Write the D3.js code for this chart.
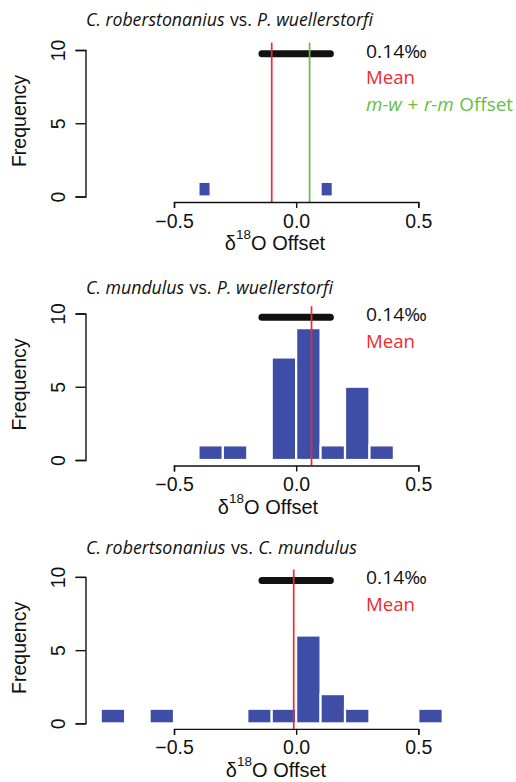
<!DOCTYPE html>
<html>
<head>
<meta charset="utf-8">
<script src="https://cdn.jsdelivr.net/npm/d3@7"></script>
<style>
  body { margin: 0; background: #fff; }
  svg { display: block; }
</style>
</head>
<body>
<script>
// Panel titles: [text, italic] segments
const titleParts = [
  [["C. roberstonanius", true], ["vs.", false], ["P. wuellerstorfi", true]],
  [["C. mundulus", true], ["vs.", false], ["P. wuellerstorfi", true]],
  [["C. robertsonanius", true], ["vs.", false], ["C. mundulus", true]]
];
const offsetLegendParts = [["m-w", true], ["+", false], ["r-m", true], ["Offset", false]];

// Histogram bins (left edges), bin widths and counts per panel
const binWidths = [0.05, 0.1, 0.1];
const binStarts = [
  [-0.4, 0.1],
  [-0.4, -0.3, -0.1, 0.0, 0.1, 0.2, 0.3],
  [-0.8, -0.6, -0.2, -0.1, 0.0, 0.1, 0.2, 0.5]
];
const counts = [
  [1, 1],
  [1, 1, 7, 9, 1, 5, 1],
  [1, 1, 1, 1, 6, 2, 1, 1]
];

// Mean offset per panel and the combined m-w + r-m offset (first panel)
const means = [-0.10, 0.063, -0.01];
const combinedOffset = 0.055;

// Reproducibility band: ±0.14‰ around zero, drawn near the top of each panel
const bandHalfWidth = 0.14;
const bandLevel = 9.75;
const bandLabel = "0.14‰";

const xTicks = [-0.5, 0.0, 0.5];
const yTicks = [0, 5, 10];

// Layout
const W = 516, H = 782;
const panelBase = [196.5, 460, 723.4];    // pixel y of frequency 0
const titleBaseline = [26, 294, 554];
const titleWidths = [287, 247, 271];
const xLabelCenter = [275, 268, 276];
const unitPx = 14.65;                       // pixels per count

const blue = "#3e4ea6", red = "#ee2a2f", green = "#62bf45";
const tickFont = "'Liberation Sans', Arial, Helvetica, sans-serif";
const noteFont = "'Open Sans', 'Noto Sans', sans-serif";
const noteSize = 19;

const svg = d3.select("body").append("svg")
  .attr("width", W).attr("height", H);

const x = d3.scaleLinear().domain([-0.5, 0.5]).range([174, 418.3]);

const fmtX = d => d === 0 ? "0.0" : d3.format(".1f")(d);

// Lays out a run of words (some italic) as separate text pieces,
// squeezed horizontally so the whole run spans the given width
function fittedRun(g, parts, x0, yBase, totalWidth, fill) {
  const pieces = parts.map(([s, it]) => g.append("text")
    .attr("font-family", noteFont).attr("font-size", noteSize)
    .attr("font-style", it ? "italic" : "normal")
    .attr("fill", fill)
    .text(s));
  const widths = pieces.map(p => p.node().getComputedTextLength());
  const gap = noteSize * 0.3;
  const natural = d3.sum(widths) + gap * (parts.length - 1);
  const k = totalWidth / natural;
  let cx = x0;
  pieces.forEach((p, j) => {
    p.attr("transform", `translate(${cx},${yBase}) scale(${k},1)`);
    cx += (widths[j] + gap) * k;
  });
}

titleParts.forEach((parts, i) => {
  const y0 = panelBase[i];
  const y = d3.scaleLinear().domain([0, 10]).range([y0, y0 - 10 * unitPx]);
  const g = svg.append("g");

  // Title
  fittedRun(g, parts, 86, titleBaseline[i], titleWidths[i], "#111");

  // Histogram bars
  const bins = binStarts[i].map((s, k) => ({ x0: s, x1: s + binWidths[i], n: counts[i][k] }));
  g.selectAll("rect.bar").data(bins).join("rect")
    .attr("class", "bar")
    .attr("x", d => x(d.x0))
    .attr("width", d => x(d.x1) - x(d.x0))
    .attr("y", d => y(d.n))
    .attr("height", d => y(0) - y(d.n))
    .attr("fill", blue)
    .attr("stroke", "#fff")
    .attr("stroke-width", 2.2);

  // Band of ±0.14‰
  g.append("line")
    .attr("x1", x(-bandHalfWidth)).attr("x2", x(bandHalfWidth))
    .attr("y1", y(bandLevel)).attr("y2", y(bandLevel))
    .attr("stroke", "#111").attr("stroke-width", 7)
    .attr("stroke-linecap", "round");

  const axisY = y0 + 5.5;

  // Mean line
  g.append("line")
    .attr("x1", x(means[i])).attr("x2", x(means[i]))
    .attr("y1", y(10.5)).attr("y2", axisY)
    .attr("stroke", red).attr("stroke-width", 1.7);

  if (i === 0) {
    g.append("line")
      .attr("x1", x(combinedOffset)).attr("x2", x(combinedOffset))
      .attr("y1", y(10.5)).attr("y2", axisY)
      .attr("stroke", green).attr("stroke-width", 1.7);
  }

  // Notes to the right
  const y10 = y(10);
  fittedRun(g, [[bandLabel, false]], 366, y10 + 7.5, 61, "#111");
  fittedRun(g, [["Mean", false]], 366, y10 + 34, 49, red);
  if (i === 0) {
    fittedRun(g, offsetLegendParts, 366, y10 + 60.5, 147, green);
  }

  // X axis
  const xa = g.append("g")
    .attr("transform", `translate(0,${axisY})`)
    .call(d3.axisBottom(x).tickValues(xTicks).tickFormat(fmtX).tickSizeOuter(0).tickSize(6));
  xa.selectAll("path, line").attr("stroke", "#111").attr("stroke-width", 1.4);
  xa.selectAll("text")
    .attr("y", 25.5).attr("dy", null)
    .attr("font-family", tickFont).attr("font-size", 19.5).attr("fill", "#111");

  // Y axis
  const ya = g.append("g")
    .attr("transform", "translate(85.5,0)")
    .call(d3.axisLeft(y).tickValues(yTicks).tickFormat(d3.format("d")).tickSizeOuter(0).tickSize(10));
  ya.selectAll("path, line").attr("stroke", "#111").attr("stroke-width", 1.4);
  ya.selectAll("text")
    .attr("x", null).attr("dy", null)
    .attr("transform", "translate(-20.5,0) rotate(-90)")
    .attr("text-anchor", "middle")
    .attr("font-family", tickFont).attr("font-size", 19.5).attr("fill", "#111");

  // Axis titles
  g.append("text")
    .attr("transform", `translate(26,${y0 - 75.5}) rotate(-90)`)
    .attr("text-anchor", "middle")
    .attr("font-family", tickFont).attr("font-size", 19.5).attr("fill", "#111")
    .text("Frequency");

  const xl = g.append("text")
    .attr("x", xLabelCenter[i]).attr("y", y0 + 53.5)
    .attr("text-anchor", "middle")
    .attr("font-family", tickFont).attr("font-size", 20).attr("fill", "#111");
  xl.append("tspan").text("δ");
  xl.append("tspan").text("18").attr("font-size", 13.5).attr("dy", -11);
  xl.append("tspan").text("O Offset").attr("dy", 11);
});
</script>
</body>
</html>
